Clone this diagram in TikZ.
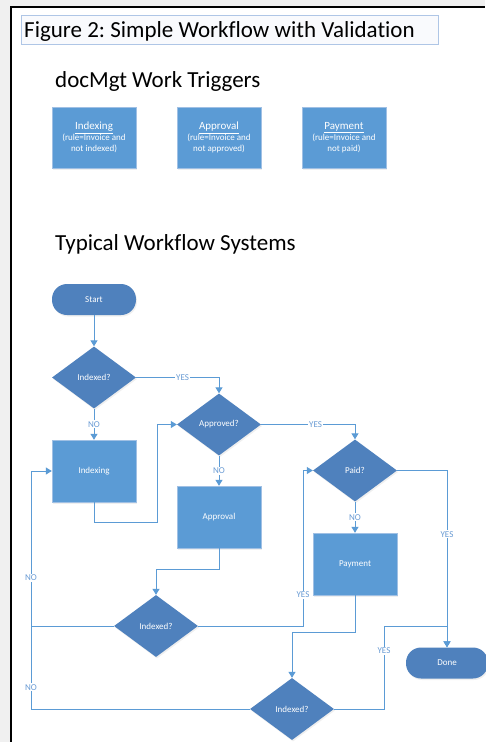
\documentclass[tikz,border=0pt]{standalone}
\usepackage{fontspec}
\setmainfont{Carlito}[Ligatures=NoCommon]
\frenchspacing
\usetikzlibrary{arrows.meta,shapes.geometric,shadows}

\definecolor{flowdark}{RGB}{79,129,189}
\definecolor{flowlight}{RGB}{91,155,213}
\definecolor{flowedge}{RGB}{160,192,228}
\definecolor{flowlabel}{RGB}{105,155,212}
\definecolor{pagegray}{RGB}{240,240,240}
\definecolor{titleedge}{RGB}{175,198,230}

\begin{document}
\begin{tikzpicture}[x=1pt, y=-1pt, >={Triangle[width=7pt,length=6pt]},
  task/.style={rectangle, fill=flowlight, draw=flowedge, minimum width=84pt, minimum height=62pt, text=white, font=\fontsize{9}{11}\selectfont, align=center, drop shadow={opacity=0.12, shadow xshift=1pt, shadow yshift=-1.5pt}},
  decision/.style={diamond, fill=flowdark, minimum width=84pt, minimum height=62pt, inner sep=0pt, text=white, font=\fontsize{9}{11}\selectfont, drop shadow={opacity=0.12, shadow xshift=1pt, shadow yshift=-1.5pt}},
  terminal/.style={rectangle, rounded corners=15pt, fill=flowdark, minimum width=84pt, minimum height=31pt, text=white, font=\fontsize{9}{11}\selectfont, drop shadow={opacity=0.12, shadow xshift=1pt, shadow yshift=-1.5pt}},
  lbl/.style={fill=white, text=flowlabel, inner sep=1pt, font=\fontsize{9}{11}\selectfont},
  flow/.style={draw=flowlight, line width=1pt},
  heading/.style={anchor=base west, inner sep=0pt, font=\fontsize{23}{27}\selectfont}]

  \useasboundingbox (0,0) rectangle (485,742);

  % page and frame
  \fill[pagegray] (0,0) rectangle (485,742);
  \fill[white] (11,7) rectangle (485,742);
  \draw[line width=2pt] (11,742) -- (11,7) -- (485,7);

  % caption box
  \draw[titleedge, line width=1pt, fill=titleedge!8] (21,15) rectangle (438,44);
  \node[heading] (title) at (24,37) {Figure 2: Simple Workflow with Validation};

  % triggers
  \node[heading] (trighead) at (55,87) {docMgt Work Triggers};
  \node[task, minimum height=61pt] (tidx) at (94,137.5) {{\fontsize{11}{11}\selectfont\underline{Indexing}}\\(rule=Invoice and\\not indexed)};
  \node[task, minimum height=61pt] (tapv) at (219,137.5) {{\fontsize{11}{11}\selectfont\underline{Approval}}\\(rule=Invoice and\\not approved)};
  \node[task, minimum height=61pt] (tpay) at (344,137.5) {{\fontsize{11}{11}\selectfont\underline{Payment}}\\(rule=Invoice and\\not paid)};

  % workflow
  \node[heading] (flowhead) at (55,250) {Typical Workflow Systems};

  \node[terminal] (start) at (94,299.5) {Start};
  \node[decision] (ix1) at (94,377.5) {Indexed?};
  \node[task] (idx) at (94,471) {Indexing};
  \node[decision] (apd) at (219,424.5) {Approved?};
  \node[task] (apv) at (219,517) {Approval};
  \node[decision] (paid) at (355,470.5) {Paid?};
  \node[task] (pay) at (355,564) {Payment};
  \node[terminal, minimum width=82pt] (done) at (447,663) {Done};
  \node[decision] (ix2) at (156,626) {Indexed?};
  \node[decision] (ix3) at (292,709) {Indexed?};

  \coordinate (c1) at (157,522);
  \coordinate (c2) at (303,470.5);
  \coordinate (c3) at (384,626);
  \coordinate (c5) at (31,626);

  \draw[flow, ->] (start) -- (ix1);
  \draw[flow, ->] (ix1) -- node[lbl] {NO} (idx);
  \draw[flow, ->] (ix1.east) -| node[lbl, pos=0.28] {YES} (apd.north);
  \draw[flow, ->] (idx.south) |- (c1) |- (apd.west);
  \draw[flow, ->] (apd) -- node[lbl] {NO} (apv);
  \draw[flow, ->] (apd.east) -| node[lbl, pos=0.29] {YES} (paid.north);
  \draw[flow, ->] (paid) -- node[lbl] {NO} (pay);
  \draw[flow, ->] (paid.east) -| node[lbl, pos=0.68] {YES} (done.north);
  \draw[flow, ->] (apv.south) -- ++(0,21) -| (ix2.north);
  \draw[flow, ->] (ix2.east) -| node[lbl, pos=0.6] {YES} (c2) -- (paid.west);
  \draw[flow, ->] (ix2.west) -- (c5) |- node[lbl, pos=0.155] {NO} (idx.west);
  \draw[flow, ->] (pay.south) -- ++(0,37) -| (ix3.north);
  \draw[flow, ->] (ix3.east) -| node[lbl, pos=0.85] {YES} (c3) -| (done.north);
  \draw[flow] (ix3.west) -| node[lbl, pos=0.63] {NO} (c5);
\end{tikzpicture}
\end{document}
